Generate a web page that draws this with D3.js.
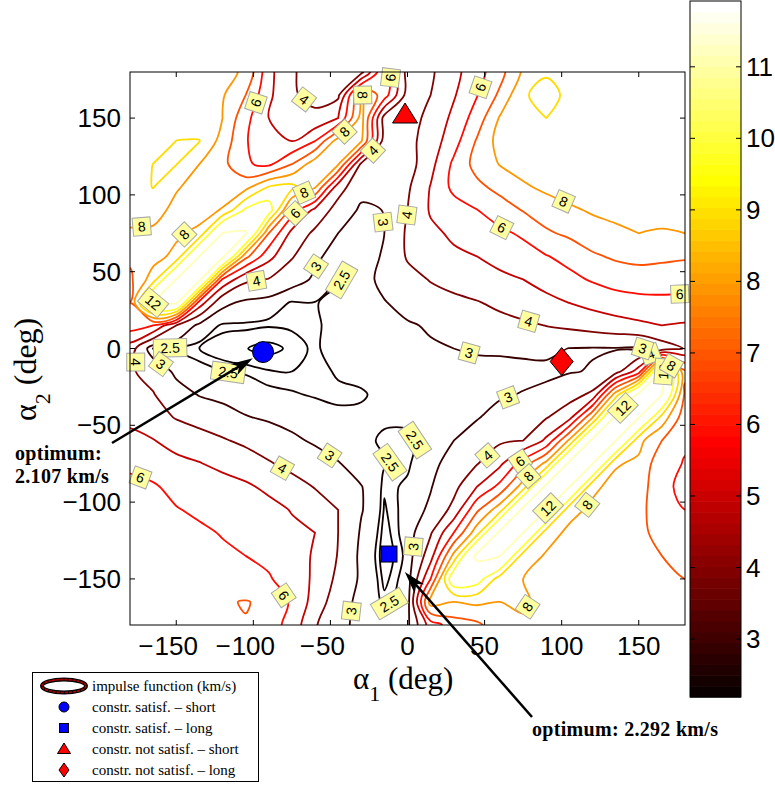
<!DOCTYPE html>
<html>
<head>
<meta charset="utf-8">
<title>Impulse function contour map</title>
<style>
  body{margin:0;background:#fff;}
  svg{display:block;}
  .tick{font-family:"Liberation Sans",Arial,sans-serif;font-size:26px;fill:#000;}
  .serif{font-family:"Liberation Serif","Times New Roman",serif;fill:#000;}
  .clabel text{font-family:"Liberation Sans",Arial,sans-serif;font-size:14px;fill:#000;}
</style>
</head>
<body>
<script src="https://cdn.jsdelivr.net/npm/d3@7/dist/d3.min.js"></script>
<script>
// grid of the impulse function (km/s)
var alpha1 = [-180,-165,-150,-135,-120,-105,-90,-75,-60,-45,-30,-15,0,15,30,45,60,75,90,105,120,135,150,165,180];
var alpha2 = [180,165,150,135,120,105,90,75,60,45,30,15,0,-15,-30,-45,-60,-75,-90,-105,-120,-135,-150,-165,-180];
var impulse = [
 [8.6,8.7,8.7,8.5,8.2,7.9,5.3,4.05,3.8,3.7,3.7,7.0,3.6,3.85,4.7,5.6,6.65,8.15,8.9,8.75,8.6,8.5,8.5,8.45,8.4],
 [8.6,8.7,8.7,8.5,8.1,7.0,5.2,4.1,3.75,3.8,8.1,6.5,3.6,4.0,4.9,5.95,7.2,8.9,9.3,8.8,8.6,8.5,8.5,8.4,8.4],
 [8.6,8.7,8.6,8.5,8.0,6.3,5.0,4.4,4.2,5.0,8.4,3.6,3.7,4.2,5.25,6.45,8.1,8.6,9.0,8.85,8.6,8.5,8.45,8.4,8.35],
 [8.5,8.5,9.01,9.03,7.6,6.1,5.1,5.0,6.0,8.5,8.1,3.5,3.7,4.45,5.6,7.1,8.4,8.7,8.8,8.7,8.6,8.5,8.45,8.4,8.3],
 [8.5,9.01,9.03,8.0,7.3,6.1,5.8,7.0,8.6,8.1,3.8,3.1,3.55,4.7,6.2,7.35,8.05,8.4,8.6,8.6,8.55,8.5,8.45,8.4,8.3],
 [8.5,9.03,8.1,7.6,7.3,7.7,9.1,9.3,8.1,4.4,3.3,3.0,3.85,5.05,6.25,6.75,7.3,7.85,8.2,8.4,8.45,8.45,8.4,8.35,8.3],
 [8.3,8.4,7.7,7.5,8.1,10.2,10.6,6.5,4.7,3.6,2.85,3.02,4.0,5.1,5.55,5.97,6.5,7.05,7.5,7.85,8.1,8.2,8.25,8.2,8.15],
 [7.9,7.8,7.8,8.3,12.02,12.2,7.0,4.7,3.8,3.0,2.7,3.0,4.15,4.8,5.15,5.4,5.8,6.15,6.85,7.2,7.6,7.85,8.0,7.95,8.0],
 [7.2,7.6,8.3,12.02,12.4,7.3,5.3,4.1,3.1,2.8,2.6,3.1,4.1,4.4,4.85,5.0,5.3,5.6,5.95,6.3,6.85,7.15,7.3,7.2,7.1],
 [6.8,8.5,12.02,12.4,5.9,4.2,3.95,3.3,2.9,2.48,2.6,3.3,3.7,4.05,4.3,4.55,4.8,5.0,5.35,5.75,6.1,6.4,6.5,6.5,6.5],
 [7.0,12.02,12.4,5.6,3.2,2.85,2.7,2.47,2.49,2.55,2.6,2.95,3.35,3.65,3.8,3.95,4.2,4.45,4.75,5.02,5.3,5.55,5.7,5.75,5.7],
 [6.5,6.0,4.0,2.75,2.45,2.45,2.42,2.45,2.48,2.55,2.6,2.7,2.9,3.1,3.3,3.5,3.7,3.85,4.02,4.2,4.4,4.6,4.8,5.0,4.9],
 [4.5,2.48,2.45,2.4,2.3,2.21,2.12,2.25,2.47,2.6,2.6,2.65,2.75,2.9,3.0,3.1,3.15,3.2,3.2,2.98,2.95,2.95,2.9,3.5,4.05],
 [4.1,3.7,2.8,2.58,2.5,2.48,2.42,2.4,2.42,2.53,2.58,2.6,2.65,2.75,2.8,2.75,2.7,2.75,2.8,2.95,3.05,3.6,5.5,12.4,7.2],
 [4.5,4.05,3.4,2.95,2.75,2.62,2.55,2.52,2.48,2.45,2.47,2.58,2.6,2.6,2.7,2.8,2.9,3.05,3.25,3.6,4.2,8.5,12.4,12.02,6.8],
 [4.75,4.35,3.95,3.65,3.4,3.05,2.9,2.75,2.62,2.56,2.56,2.53,2.55,2.6,2.8,2.95,3.3,3.5,3.95,4.7,8.0,12.4,12.02,8.6,6.4],
 [5.3,5.05,4.6,4.4,4.1,3.8,3.45,3.15,2.9,2.62,2.55,2.47,2.45,2.6,3.0,3.4,3.85,4.0,5.2,8.2,12.4,12.02,8.3,7.0,6.1],
 [5.85,5.6,5.3,5.05,4.75,4.5,4.1,3.7,3.35,3.05,2.65,2.52,2.45,2.8,3.3,3.95,4.8,6.5,8.3,12.4,12.02,8.1,7.8,6.3,5.95],
 [6.2,6.1,5.75,5.6,5.4,5.15,4.8,4.4,3.95,3.6,3.03,2.42,2.55,2.95,3.7,5.0,6.3,8.5,12.4,12.02,8.2,7.7,7.6,6.1,5.9],
 [6.4,6.3,6.05,5.85,5.6,5.4,5.3,4.95,4.5,4.0,3.05,2.38,2.58,3.15,4.3,6.8,8.6,12.4,12.02,8.3,7.8,7.6,7.4,6.2,6.0],
 [6.5,6.4,6.3,6.15,5.95,5.75,5.45,5.2,5.0,4.0,2.9,2.33,2.6,3.9,6.0,8.6,12.4,12.02,8.4,7.8,7.7,7.5,7.3,6.6,6.3],
 [6.5,6.5,6.5,6.35,6.15,6.0,5.75,5.4,4.9,3.95,2.8,2.3,2.55,4.6,8.3,12.4,12.02,8.5,7.9,7.7,7.5,7.5,7.3,7.0,6.7],
 [6.6,6.6,6.6,6.55,6.45,6.3,6.1,5.5,4.85,3.75,2.85,2.35,2.6,6.0,11.0,10.6,8.5,8.0,7.8,7.6,7.5,7.5,7.4,7.3,7.0],
 [6.6,6.6,6.7,6.8,6.9,7.05,6.8,5.85,4.6,3.4,2.75,2.45,2.6,8.5,8.0,8.2,8.0,8.1,7.8,7.7,7.6,7.6,7.5,7.4,7.2],
 [6.6,6.6,6.7,6.8,6.9,6.95,6.5,5.6,4.1,3.15,2.85,2.7,2.8,5.5,6.5,6.8,7.6,7.9,7.9,7.8,7.7,7.7,7.6,7.5,7.3]
];
var levels = [2.2,2.4,2.5,3,4,5,6,7,8,9,10,12];
var colorRange = [2.19,11.92];
var colorTicks = [3,4,5,6,7,8,9,10,11];
var axisTicks = [-150,-100,-50,0,50,100,150];
// contour labels: [alpha1, alpha2, level]
var labelSpots = [
 [-89.8,157.2,6],[-61.3,169.6,4],[-41.8,142.2,8],[-26.3,132.5,4],[-68.4,104.5,8],[-71.7,86.9,6],
 [-58.7,53.1,3],[-39.2,42.6,2.5],[-97,38.4,4],[-144.3,73.8,8],[-172.2,77.1,8],[-170.2,15.3,12],
 [-154,1,2.5],[-161.8,-12.7,3],[-173.5,-8.8,4],[-14.6,82.4,3],[-0.3,86.9,4],[47,170.2,6],
 [100.8,94.6,8],[62,80.4,6],[79.4,20.5,4],[176.7,33.5,6],[39.2,-5.5,3],[65.2,-31.6,3],
 [51.6,-69.3,4],[71.7,-71.3,6],[74.9,-79.1,8],[87.9,-100.6,12],[137.8,-36.8,12],[118.4,-103.2,8],
 [4.9,-59.6,2.5],[-9.4,-72.6,2.5],[6.8,-129.2,3],[52.2,-159.2,6],[84,-172.2,8],[-11.3,-166.9,2.5],
 [-42.5,-170.2,3],[-78.1,-159.2,6],[-172.1,-81,6],[-80.7,-77.1,4],[-50.3,-69.3,3],[-117,-20.5,2.5],
 [-18,177,3],[-8,176,6],[-14,168,8],[159,-7.5,4],[167,3.6,3],[170,-13,12],[176,-3,8]
];
// solutions: [alpha1, alpha2]
var shortOK = [-93.7,-2.3];
var longOK = [-12,-133.8];
var shortNot = [-1.6,152];
var longNot = [100,-8.5];
var optimumText = ["optimum:","2.107 km/s","optimum: 2.292 km/s"];
var legendNames = ["impulse function (km/s)","constr. satisf. \u2013 short","constr. satisf. \u2013 long",
  "constr. not satisf. \u2013 short","constr. not satisf. \u2013 long"];

var W = 775, H = 785;
var box = {x0:130, y0:72, x1:685, y1:625};
var x = d3.scaleLinear().domain([-180,180]).range([box.x0,box.x1]);
var y = d3.scaleLinear().domain([-180,180]).range([box.y1,box.y0]);

// MATLAB "hot" colormap
function hot(t){
  t = Math.max(0,Math.min(1,t));
  var r = Math.min(1,t/0.375), g = Math.max(0,Math.min(1,(t-0.375)/0.375)), b = Math.max(0,Math.min(1,(t-0.75)/0.25));
  return d3.rgb(r*255,g*255,b*255);
}
function levelColor(v){
  var t = (v-colorRange[0])/(colorRange[1]-colorRange[0]);
  return hot(Math.min(t,0.93)).formatHex();
}

var svg = d3.select("body").append("svg").attr("width",W).attr("height",H);
svg.append("rect").attr("width",W).attr("height",H).attr("fill","#fff");

svg.append("clipPath").attr("id","plotclip").append("rect")
  .attr("x",box.x0).attr("y",box.y0).attr("width",box.x1-box.x0).attr("height",box.y1-box.y0);

// contours: pad the grid by one cell so that border rings fall outside the axes
var nx = alpha1.length, ny = alpha2.length;
var padded = [];
for (var j=-1;j<=ny;j++){
  var jj = Math.max(0,Math.min(ny-1,j));
  for (var i=-1;i<=nx;i++){
    var ii = Math.max(0,Math.min(nx-1,i));
    padded.push(impulse[jj][ii]);
  }
}
var contours = d3.contours().size([nx+2,ny+2]).thresholds(levels)(padded);
var step1 = alpha1[1]-alpha1[0], step2 = alpha2[1]-alpha2[0];
function gx(X){ return x(alpha1[0]+(X-1.5)*step1); }
function gy(Y){ return y(alpha2[0]+(Y-1.5)*step2); }

var lineGen = d3.line().curve(d3.curveCatmullRomClosed.alpha(0.5));
var ringsByLevel = {};
var cg = svg.append("g").attr("clip-path","url(#plotclip)");
contours.forEach(function(c){
  var rings = [];
  c.coordinates.forEach(function(poly){
    poly.forEach(function(ring){
      var pts = ring.slice(0,ring.length-1).map(function(p){ return [gx(p[0]),gy(p[1])]; });
      if (pts.length>2) rings.push(pts);
    });
  });
  ringsByLevel[c.value] = rings;
  cg.selectAll(null).data(rings).enter().append("path")
    .attr("d",lineGen)
    .attr("fill","none")
    .attr("stroke",levelColor(c.value))
    .attr("stroke-width",1.8)
    .attr("stroke-linejoin","round");
});

// contour labels snapped to the nearest drawn contour of the same level
var lg = svg.append("g").attr("class","clabel");
labelSpots.forEach(function(s){
  var px = x(s[0]), py = y(s[1]);
  var rings = ringsByLevel[s[2]] || [];
  var best = null;
  rings.forEach(function(r){
    for (var k=0;k<r.length;k++){
      var a = r[k], b = r[(k+1)%r.length];
      var dx = b[0]-a[0], dy = b[1]-a[1], L = dx*dx+dy*dy;
      var t = L>0 ? ((px-a[0])*dx+(py-a[1])*dy)/L : 0;
      t = Math.max(0,Math.min(1,t));
      var qx = a[0]+t*dx, qy = a[1]+t*dy;
      if (qx<box.x0||qx>box.x1||qy<box.y0||qy>box.y1) continue;
      var d = Math.hypot(qx-px,qy-py);
      if (!best || d<best.d) best = {d:d,x:qx,y:qy,ang:Math.atan2(dy,dx)*180/Math.PI};
    }
  });
  if (!best || best.d>28) return;
  var ang = best.ang;
  if (ang>90) ang -= 180;
  if (ang<-90) ang += 180;
  var g = lg.append("g").attr("transform","translate("+best.x+","+best.y+") rotate("+ang+")");
  var txt = String(s[2]);
  var w = txt.length*7.8+10;
  g.append("rect").attr("x",-w/2).attr("y",-9).attr("width",w).attr("height",18)
    .attr("fill","#ffffa0").attr("stroke","#a8a8a8").attr("stroke-width",1);
  g.append("text").attr("text-anchor","middle").attr("y",5).text(txt);
});

// solution markers
var mk = svg.append("g").attr("stroke","#000").attr("stroke-width",1);
mk.append("circle").attr("cx",x(shortOK[0])).attr("cy",y(shortOK[1])).attr("r",10.5).attr("fill","#0000ff");
mk.append("rect").attr("x",x(longOK[0])-8).attr("y",y(longOK[1])-8).attr("width",16).attr("height",16).attr("fill","#0000ff");
mk.append("path").attr("transform","translate("+x(shortNot[0])+","+y(shortNot[1])+")")
  .attr("d","M0,-12L12.5,8L-12.5,8Z").attr("fill","#ff0000");
mk.append("path").attr("transform","translate("+x(longNot[0])+","+y(longNot[1])+")")
  .attr("d","M0,-14L11.5,0L0,14L-11.5,0Z").attr("fill","#ff0000");

// axes box and ticks (inside, all four sides)
svg.append("rect").attr("x",box.x0).attr("y",box.y0).attr("width",box.x1-box.x0).attr("height",box.y1-box.y0)
  .attr("fill","none").attr("stroke","#000").attr("stroke-width",1);
var tk = svg.append("g").attr("stroke","#000").attr("stroke-width",1);
axisTicks.forEach(function(v){
  tk.append("line").attr("x1",x(v)).attr("x2",x(v)).attr("y1",box.y1).attr("y2",box.y1-5);
  tk.append("line").attr("x1",x(v)).attr("x2",x(v)).attr("y1",box.y0).attr("y2",box.y0+5);
  tk.append("line").attr("y1",y(v)).attr("y2",y(v)).attr("x1",box.x0).attr("x2",box.x0+5);
  tk.append("line").attr("y1",y(v)).attr("y2",y(v)).attr("x1",box.x1).attr("x2",box.x1-5);
});
function numText(v){ return (v<0?"\u2212":"")+Math.abs(v); }
// x tick labels: digits centred on the tick, minus sign hanging left
axisTicks.forEach(function(v){
  var t = svg.append("text").attr("class","tick").attr("x",x(v)).attr("y",655).attr("text-anchor","middle").text(Math.abs(v));
  if (v<0){
    var w = t.node().getComputedTextLength();
    svg.append("text").attr("class","tick").attr("x",x(v)-w/2-1).attr("y",655).attr("text-anchor","end").text("\u2212");
  }
});
axisTicks.forEach(function(v){
  svg.append("text").attr("class","tick").attr("x",121).attr("y",y(v)+9).attr("text-anchor","end").text(numText(v));
});

// axis titles
var xt = svg.append("text").attr("class","serif").attr("x",353).attr("y",689).style("font-size","31px");
xt.append("tspan").text("\u03b1");
xt.append("tspan").attr("dy",12).style("font-size","22px").text("1");
xt.append("tspan").attr("dy",-12).text(" (deg)");
var yt = svg.append("text").attr("class","serif").attr("transform","translate(36,421) rotate(-90)").style("font-size","32px");
yt.append("tspan").text("\u03b1");
yt.append("tspan").attr("dy",14).style("font-size","22px").text("2");
yt.append("tspan").attr("dy",-14).text(" (deg)");

// colorbar
var cb = {x0:690, x1:741, y0:1, y1:697};
var cy = d3.scaleLinear().domain(colorRange).range([cb.y1,cb.y0]);
var nBands = 64;
for (var k=0;k<nBands;k++){
  var v0 = colorRange[0]+(colorRange[1]-colorRange[0])*k/nBands;
  var v1 = colorRange[0]+(colorRange[1]-colorRange[0])*(k+1)/nBands;
  svg.append("rect").attr("x",cb.x0).attr("width",cb.x1-cb.x0)
    .attr("y",cy(v1)).attr("height",cy(v0)-cy(v1)+0.6)
    .attr("fill",hot((k+1)/nBands).formatHex());
}
svg.append("rect").attr("x",cb.x0).attr("y",cb.y0).attr("width",cb.x1-cb.x0).attr("height",cb.y1-cb.y0)
  .attr("fill","none").attr("stroke","#000").attr("stroke-width",1);
colorTicks.forEach(function(v){
  svg.append("line").attr("x1",cb.x0).attr("x2",cb.x0+5).attr("y1",cy(v)).attr("y2",cy(v)).attr("stroke","#000");
  svg.append("line").attr("x1",cb.x1).attr("x2",cb.x1-5).attr("y1",cy(v)).attr("y2",cy(v)).attr("stroke","#000");
  svg.append("text").attr("class","tick").attr("x",746).attr("y",cy(v)+9).text(v);
});

// annotations
function arrow(sx,sy,tx,ty){
  var dx = tx-sx, dy = ty-sy, L = Math.hypot(dx,dy), ux = dx/L, uy = dy/L;
  var hl = 22, hw = 6.5;
  var bx = tx-ux*hl, by = ty-uy*hl;
  svg.append("line").attr("x1",sx).attr("y1",sy).attr("x2",tx-ux*10).attr("y2",ty-uy*10)
    .attr("stroke","#000").attr("stroke-width",2.5);
  svg.append("path").attr("d","M"+tx+","+ty+"L"+(bx-uy*hw)+","+(by+ux*hw)+"L"+(tx-ux*hl*0.72)+","+(ty-uy*hl*0.72)+
    "L"+(bx+uy*hw)+","+(by-ux*hw)+"Z").attr("fill","#000");
}
(function(){
  var cx = x(shortOK[0]), cyy = y(shortOK[1]);
  var sx = 112, sy = 443, dx = sx-cx, dy = sy-cyy, L = Math.hypot(dx,dy);
  arrow(sx,sy,cx+dx/L*12,cyy+dy/L*12);
  var qx = x(longOK[0]), qy = y(longOK[1]);
  var s2x = 532, s2y = 717; dx = s2x-qx; dy = s2y-qy; L = Math.hypot(dx,dy);
  arrow(s2x,s2y,qx+dx/L*24,qy+dy/L*24);
})();
function boldNote(tx,ty,s){
  svg.append("text").attr("class","serif").attr("x",tx).attr("y",ty)
    .style("font-size","20px").style("font-weight","bold").style("letter-spacing","0.3px").text(s);
}
boldNote(15,460,optimumText[0]);
boldNote(15,483,optimumText[1]);
boldNote(532,736,optimumText[2]);

// legend
var lgd = svg.append("g");
lgd.append("rect").attr("x",32.5).attr("y",672.5).attr("width",226).attr("height",109)
  .attr("fill","#fff").attr("stroke","#000").attr("stroke-width",1);
var rowY = [686,707,728,749,770];
lgd.append("ellipse").attr("cx",64).attr("cy",rowY[0]).attr("rx",22).attr("ry",6.5)
  .attr("fill","none").attr("stroke","#000").attr("stroke-width",4);
lgd.append("ellipse").attr("cx",64).attr("cy",rowY[0]).attr("rx",22).attr("ry",6.5)
  .attr("fill","none").attr("stroke","#b00000").attr("stroke-width",1.6).attr("stroke-dasharray","3,1");
lgd.append("circle").attr("cx",64).attr("cy",rowY[1]).attr("r",5).attr("fill","#0000ff").attr("stroke","#000");
lgd.append("rect").attr("x",59.5).attr("y",rowY[2]-4.5).attr("width",9).attr("height",9).attr("fill","#0000ff").attr("stroke","#000");
lgd.append("path").attr("transform","translate(64,"+rowY[3]+")").attr("d","M0,-6L6.5,4.5L-6.5,4.5Z").attr("fill","#ff0000").attr("stroke","#000");
lgd.append("path").attr("transform","translate(64,"+rowY[4]+")").attr("d","M0,-7L5,0L0,7L-5,0Z").attr("fill","#ff0000").attr("stroke","#000");
legendNames.forEach(function(n,k){
  lgd.append("text").attr("class","serif").attr("x",92).attr("y",rowY[k]+5).style("font-size","15px").text(n);
});
</script>
</body>
</html>
